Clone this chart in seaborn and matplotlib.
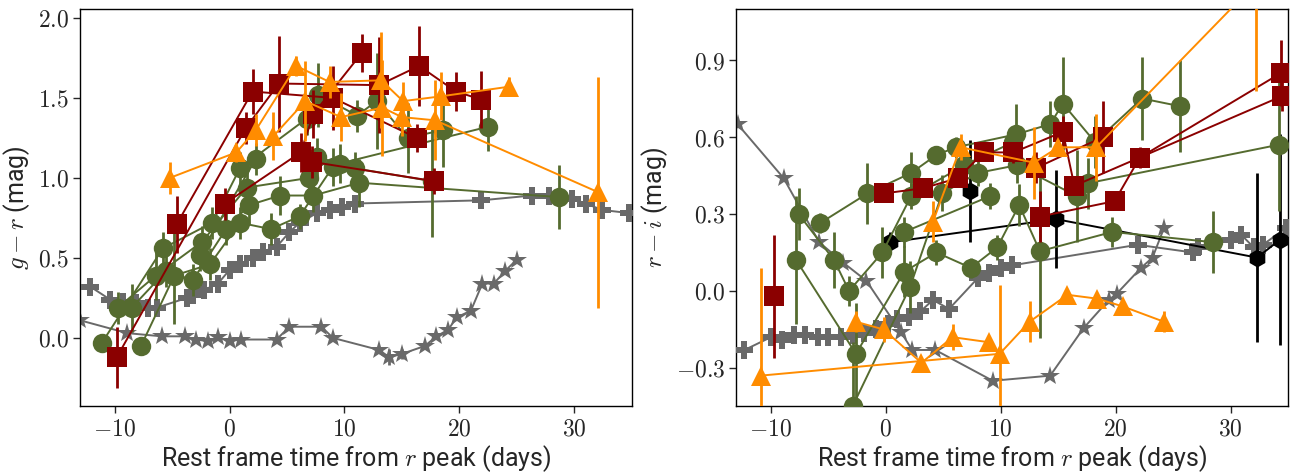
import numpy as np
import pandas as pd
import matplotlib
matplotlib.use("Agg")
import matplotlib.pyplot as plt
import seaborn as sns
from matplotlib.ticker import FuncFormatter, MultipleLocator

# ---------------- LEFT PANEL (g - r) ----------------
ls_t = [[-13.0, -8.9, -5.9, -3.9, -2.9, -1.9, -1.0, 0.0, 1.0, 4.1, 5.2, 8.0, 9.0, 13.0, 13.9,
         15.0, 17.0, 18.0, 19.0, 19.8, 21.0, 22.0, 23.0, 24.0, 25.0]]
ls_y = [[0.11, 0.03, 0.01, 0.01, -0.01, -0.02, 0.005, -0.02, -0.01, -0.01, 0.07, 0.07, 0.0, -0.075, -0.12,
         -0.10, -0.05, 0.01, 0.05, 0.13, 0.17, 0.34, 0.34, 0.42, 0.49]]
ls_e = [[0.01] * 14 + [0.05, 0.03] + [0.01] * 9]

lp_t = [[-12.1, -10.4, -9.3, -8.1, -7.1, -6.3, -3.7, -3.2, -2.2, -1.0, 0.0, 0.9, 2.0, 2.9, 4.1, 5.2,
         6.1, 7.6, 8.7, 9.8, 10.9, 21.9, 26.3, 27.8, 29.8, 31.0, 32.4, 34.8]]
lp_y = [[0.32, 0.24, 0.225, 0.22, 0.19, 0.19, 0.25, 0.27, 0.30, 0.34, 0.425, 0.46, 0.50, 0.54, 0.57, 0.66,
         0.72, 0.78, 0.80, 0.82, 0.84, 0.86, 0.89, 0.89, 0.87, 0.84, 0.80, 0.78]]
lp_e = [[0.01] * 28]

lg_t = [[-11.1, -5.8, -1.5, 0.9, 6.7, 7.7, 11.1, 12.8, 15.5, 18.6],
        [-9.7, -6.4, -2.4, 1.5, 6.9, 7.6, 9.6, 22.5],
        [-8.5, -5.5, -3.2, -0.3, 1.7, 4.4, 7.3, 11.3, 28.7],
        [-7.7, -4.8, -1.7, 0.9, 3.6, 6.1, 9.0, 10.9, 17.6],
        [-2.6, 2.3]]
lg_y = [[-0.03, 0.56, 0.72, 1.06, 1.37, 1.52, 1.39, 1.48, 1.25, 1.30],
        [0.19, 0.39, 0.60, 0.94, 1.00, 1.13, 1.09, 1.32],
        [0.19, 0.42, 0.36, 0.68, 0.83, 0.89, 0.89, 0.97, 0.88],
        [-0.05, 0.39, 0.46, 0.72, 0.68, 0.76, 1.07, 1.06, 0.98],
        [0.52, 1.12]]
lg_e = [[0.05, 0.10, 0.10, 0.10, 0.10, 0.20, 0.10, 0.30, 0.22, 0.23],
        [0.10, 0.15, 0.10, 0.10, 0.15, 0.12, 0.12, 0.15],
        [0.15, 0.10, 0.10, 0.10, 0.12, 0.12, 0.10, 0.15, 0.20],
        [0.05, 0.30, 0.10, 0.10, 0.10, 0.08, 0.12, 0.10, 0.35],
        [0.10, 0.10]]

lr_t = [[-9.8, 1.4, 4.3, 13.0, 16.5, 19.7, 21.9], [-4.6, 2.0, 9.0, 16.3], [-0.4, 6.2, 7.3, 11.5], [7.2, 17.8]]
lr_y = [[-0.12, 1.31, 1.59, 1.58, 1.70, 1.54, 1.49], [0.71, 1.54, 1.50, 1.25], [0.84, 1.16, 1.40, 1.78], [1.10, 0.98]]
lr_e = [[0.19, 0.10, 0.30, 0.30, 0.25, 0.12, 0.18], [0.18, 0.14, 0.20, 0.09], [0.10, 0.12, 0.15, 0.12], [0.10, 0.08]]

lo_t = [[-5.2, 0.6, 2.3, 5.8, 8.7, 13.2, 15.1, 18.4, 24.3], [3.8, 6.6, 9.7, 13.3, 15.0, 17.9, 32.1]]
lo_y = [[1.00, 1.16, 1.30, 1.70, 1.60, 1.61, 1.48, 1.51, 1.57], [1.26, 1.48, 1.38, 1.44, 1.38, 1.36, 0.91]]
lo_e = [[0.10, 0.06, 0.10, 0.06, 0.10, 0.30, 0.12, 0.15, 0.06], [0.15, 0.25, 0.15, 0.30, 0.12, 0.25, 0.72]]

# ---------------- RIGHT PANEL (r - i) ----------------
rs_t = [[-14.5, -12.9, -8.9, -5.8, -3.7, -1.7, 1.3, 2.3, 4.3, 9.3, 14.3, 17.2, 19.4, 20.1, 22.2, 23.2, 24.2]]
rs_y = [[0.80, 0.65, 0.44, 0.19, 0.11, 0.04, -0.16, -0.23, -0.23, -0.35, -0.33, -0.145, -0.035, -0.01, 0.09, 0.13, 0.245]]
rs_e = [[0.01] * 17]

rp_t = [[-12.3, -10.0, -9.0, -8.0, -7.0, -5.9, -5.0, -3.9, -2.9, -1.9, -0.9, 0.2, 1.0, 2.0, 3.0, 4.1, 5.5,
         8.0, 9.0, 10.0, 11.0, 21.9, 26.7, 27.2, 30.0, 30.9, 32.0, 32.8, 34.8]]
rp_y = [[-0.23, -0.18, -0.19, -0.17, -0.17, -0.18, -0.18, -0.18, -0.17, -0.165, -0.15, -0.13, -0.11, -0.10,
         -0.08, -0.035, -0.07, 0.05, 0.07, 0.09, 0.10, 0.18, 0.15, 0.17, 0.20, 0.22, 0.17, 0.18, 0.245]]
rp_e = [[0.01] * 29]

rb_t = [[0.4, 14.8, 32.3, 34.3], [7.3]]
rb_y = [[0.19, 0.28, 0.13, 0.20], [0.39]]
rb_e = [[0.04, 0.19, 0.33, 0.41], [0.20]]

rg_t = [[-5.7, -1.6, 2.2, 4.4, 6.1, 11.3, 14.3, 15.4, 18.2, 22.3, 25.6],
        [-7.6, -4.5, -3.2, -0.3, 2.2, 6.8, 11.1],
        [-7.8, -2.6, 1.6, 4.4, 7.4, 9.7, 11.6, 13.4, 19.7, 28.5],
        [-2.9, 2.1, 4.9, 8.0, 11.4, 16.6, 17.6, 34.2],
        [1.6, 9.1]]
rg_y = [[0.265, 0.38, 0.46, 0.53, 0.56, 0.61, 0.65, 0.73, 0.58, 0.75, 0.72],
        [0.30, 0.12, 0.0, 0.15, 0.37, 0.49, 0.58],
        [0.12, -0.245, 0.075, 0.15, 0.09, 0.17, 0.335, 0.155, 0.23, 0.19],
        [-0.45, 0.015, 0.38, 0.46, 0.49, 0.37, 0.42, 0.57],
        [0.23, 0.37]]
rg_e = [[0.04, 0.12, 0.08, 0.03, 0.04, 0.12, 0.09, 0.18, 0.10, 0.16, 0.18],
        [0.10, 0.11, 0.06, 0.10, 0.05, 0.05, 0.05],
        [0.25, 0.20, 0.10, 0.05, 0.04, 0.05, 0.08, 0.34, 0.06, 0.12],
        [0.25, 0.10, 0.07, 0.05, 0.07, 0.18, 0.10, 0.26],
        [0.06, 0.05]]

rr_t = [[-0.2, 3.2, 6.3, 8.5, 11.1, 15.4, 16.4, 34.5], [13.4, 19.9, 22.1, 34.4], [13.1, 18.9], [-9.7]]
rr_y = [[0.38, 0.40, 0.44, 0.54, 0.54, 0.62, 0.41, 0.76], [0.29, 0.35, 0.52, 0.85], [0.48, 0.60], [-0.02]]
rr_e = [[0.02, 0.03, 0.02, 0.02, 0.04, 0.06, 0.02, 0.06], [0.10, 0.03, 0.04, 0.13], [0.06, 0.14], [0.24]]

ro_t = [[-10.9, 9.9, 12.5, 15.8, 18.4, 20.6, 24.2], [-2.6, -0.2, 3.1, 5.8, 9.0], [4.1, 6.5, 12.9, 15.0, 18.3, 32.2]]
ro_y = [[-0.33, -0.245, -0.12, -0.015, -0.03, -0.06, -0.12], [-0.12, -0.15, -0.28, -0.18, -0.20],
        [0.27, 0.56, 0.50, 0.56, 0.56, 1.20]]
ro_e = [[0.42, 0.27, 0.08, 0.02, 0.02, 0.02, 0.04], [0.04, 0.05, 0.02, 0.05, 0.02],
        [0.08, 0.05, 0.14, 0.03, 0.13, 0.42]]

# ---------------- build long table ----------------
records = []
def add(panel, kind, T, Y, E):
    for k, (tt, yy, ee) in enumerate(zip(T, Y, E)):
        for a, b, c in zip(tt, yy, ee):
            records.append(dict(panel=panel, kind=kind, obj=f"{kind}{k}", t=a, val=b, err=c))

add("L", "star", ls_t, ls_y, ls_e)
add("L", "plus", lp_t, lp_y, lp_e)
add("L", "green", lg_t, lg_y, lg_e)
add("L", "red", lr_t, lr_y, lr_e)
add("L", "orange", lo_t, lo_y, lo_e)
add("R", "star", rs_t, rs_y, rs_e)
add("R", "plus", rp_t, rp_y, rp_e)
add("R", "black", rb_t, rb_y, rb_e)
add("R", "green", rg_t, rg_y, rg_e)
add("R", "red", rr_t, rr_y, rr_e)
add("R", "orange", ro_t, ro_y, ro_e)
df = pd.DataFrame(records)

styles = {
    "star": dict(color="dimgray", marker="*", ms=15),
    "plus": dict(color="dimgray", marker="P", ms=13),
    "black": dict(color="black", marker="h", ms=13),
    "green": dict(color="darkolivegreen", marker="o", ms=14),
    "red": dict(color="darkred", marker="s", ms=14),
    "orange": dict(color="darkorange", marker="^", ms=14),
}
order = ["star", "plus", "black", "green", "red", "orange"]

sns.set_style("ticks")
plt.rcParams["font.family"] = ["Roboto", "DejaVu Sans"]
plt.rcParams["mathtext.fontset"] = "cm"

fig = plt.figure(figsize=(12.92, 4.72), dpi=100)
axL = fig.add_axes([0.062, 0.140, 0.427, 0.841])
axR = fig.add_axes([0.570, 0.140, 0.427, 0.841])

for ax, panel in [(axL, "L"), (axR, "R")]:
    for z, kind in enumerate(order):
        sub = df[(df.panel == panel) & (df.kind == kind)]
        if sub.empty:
            continue
        st = styles[kind]
        ax.errorbar(sub.t, sub.val, yerr=sub.err, fmt="none", ecolor=st["color"],
                    elinewidth=2.0, capsize=0, zorder=2 + z)
        sns.lineplot(data=sub, x="t", y="val", units="obj", estimator=None, sort=False,
                     color=st["color"], marker=st["marker"], markersize=st["ms"],
                     markeredgewidth=0, markeredgecolor=st["color"], linewidth=1.4,
                     ax=ax, legend=False, zorder=2.5 + z)
    ax.set_xlim(-13, 35)
    ax.xaxis.set_major_locator(MultipleLocator(10))
    ax.xaxis.set_major_formatter(FuncFormatter(lambda v, p: f"${v:.0f}$"))
    ax.yaxis.set_major_formatter(FuncFormatter(lambda v, p: f"${v:.1f}$"))
    ax.tick_params(axis="both", labelsize=17, direction="out", length=5, width=1, pad=3)
    ax.set_xlabel("Rest frame time from $r$ peak (days)", fontsize=18, labelpad=2)
    for s in ax.spines.values():
        s.set_linewidth(1.0)
        s.set_color("black")

axL.set_ylim(-0.425, 2.056)
axL.yaxis.set_major_locator(MultipleLocator(0.5))
axL.set_ylabel("$g-r$ (mag)", fontsize=18, labelpad=4)

axR.set_ylim(-0.448, 1.099)
axR.set_yticks([-0.3, 0.0, 0.3, 0.6, 0.9])
axR.set_ylabel("$r-i$ (mag)", fontsize=18, labelpad=4)

fig.savefig("out.png", dpi=100)
